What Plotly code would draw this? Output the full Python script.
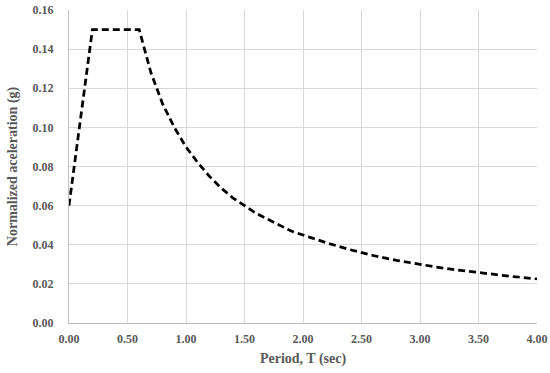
import plotly.graph_objects as go

# Period T (sec) and normalized spectral acceleration (g)
period = [0.0, 0.2, 0.6, 0.7, 0.8, 0.9, 1.0, 1.1, 1.2, 1.3, 1.4, 1.5, 1.6, 1.7,
          1.8, 1.9, 2.0, 2.2, 2.4, 2.6, 2.8, 3.0, 3.2, 3.4, 3.6, 3.8, 4.0]
accel = [0.060, 0.150, 0.150, 0.128, 0.112, 0.100, 0.090, 0.082, 0.075, 0.069,
         0.064, 0.060, 0.056, 0.053, 0.050, 0.047, 0.045, 0.041, 0.0375, 0.0345,
         0.032, 0.030, 0.028, 0.0265, 0.025, 0.0237, 0.0225]

x_ticks = [0, 0.5, 1.0, 1.5, 2.0, 2.5, 3.0, 3.5, 4.0]
y_ticks = [0, 0.02, 0.04, 0.06, 0.08, 0.10, 0.12, 0.14, 0.16]

font_family = "Liberation Serif"
grey = "#595959"

fig = go.Figure(go.Scatter(
    x=period, y=accel, mode="lines",
    line=dict(color="black", width=2.75, dash="7px,4px"),
    showlegend=False,
))

fig.update_xaxes(
    range=[0, 4], tickvals=x_ticks, tickformat=".2f",
    showgrid=True, gridcolor="#d9d9d9", gridwidth=1,
    showline=True, linecolor="#bfbfbf", linewidth=1,
    zeroline=False, ticks="", automargin=False, ticklabelstandoff=5,
    tickfont=dict(family=font_family, size=12, color=grey, weight="bold"),
    title=dict(text="Period, T (sec)", standoff=7,
               font=dict(family=font_family, size=14, color=grey, weight="bold")),
)
fig.update_yaxes(
    range=[0, 0.16], tickvals=y_ticks, tickformat=".2f",
    showgrid=True, gridcolor="#d9d9d9", gridwidth=1,
    showline=True, linecolor="#bfbfbf", linewidth=1,
    zeroline=False, ticks="", automargin=False, ticklabelstandoff=12,
    tickfont=dict(family=font_family, size=12, color=grey, weight="bold"),
    title=dict(text="Normalized aceleration (g)", standoff=11,
               font=dict(family=font_family, size=14, color=grey, weight="bold")),
)

fig.update_layout(
    width=550, height=373,
    margin=dict(l=69, r=13, t=10, b=50),
    plot_bgcolor="white", paper_bgcolor="white",
)

# drop the default 8px body margin so the figure fills the window
fig.write_html("out.html", config={"displayModeBar": False},
               post_script="document.body.style.margin='0';")
